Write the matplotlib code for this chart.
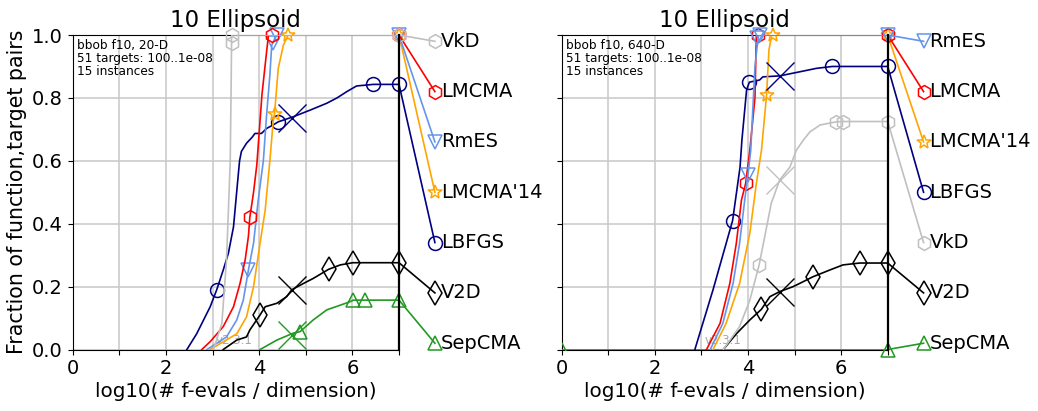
import matplotlib
matplotlib.use("Agg")
import matplotlib.pyplot as plt
import numpy as np

# ---------------- data: left panel (20-D) ----------------
L_LBFGS_x = [2.45, 2.66, 2.95, 3.09, 3.23, 3.34, 3.45, 3.53, 3.58, 3.62, 3.73, 3.85, 3.91, 4.05, 4.16, 4.30, 4.41, 4.73, 5.09, 5.45, 5.67, 5.88, 6.09, 6.45, 7.0]
L_LBFGS_y = [0.0, 0.05, 0.136, 0.19, 0.253, 0.306, 0.39, 0.52, 0.60, 0.63, 0.656, 0.675, 0.687, 0.687, 0.703, 0.714, 0.724, 0.74, 0.761, 0.783, 0.80, 0.82, 0.838, 0.843, 0.843]
L_LBFGS_mx = [3.09, 4.41, 6.45, 7.0]
L_LBFGS_my = [0.19, 0.725, 0.843, 0.843]

L_LMCMA_x = [2.77, 2.95, 3.23, 3.45, 3.59, 3.70, 3.77, 3.80, 3.88, 3.95, 4.06, 4.16, 4.20, 4.27, 7.0]
L_LMCMA_y = [0.0, 0.025, 0.073, 0.136, 0.21, 0.285, 0.36, 0.42, 0.50, 0.587, 0.81, 0.947, 1.0, 1.0, 1.0]
L_LMCMA_mx = [3.80, 4.27, 7.0]
L_LMCMA_my = [0.42, 1.0, 1.0]

L_RmES_x = [2.88, 3.30, 3.52, 3.66, 3.77, 3.88, 3.98, 4.09, 4.16, 4.23, 4.27, 4.34, 4.38, 7.0]
L_RmES_y = [0.0, 0.04, 0.094, 0.157, 0.253, 0.338, 0.475, 0.60, 0.746, 0.873, 0.968, 0.99, 1.0, 1.0]
L_RmES_mx = [3.77, 4.30, 4.38, 7.0]
L_RmES_my = [0.253, 0.975, 1.0, 1.0]

L_LM14_x = [2.95, 3.52, 3.73, 3.88, 4.02, 4.13, 4.23, 4.30, 4.33, 4.41, 4.52, 4.59, 4.62, 7.0]
L_LM14_y = [0.0, 0.05, 0.104, 0.2, 0.338, 0.444, 0.60, 0.724, 0.75, 0.894, 0.968, 0.99, 1.0, 1.0]
L_LM14_mx = [4.33, 4.62, 7.0]
L_LM14_my = [0.75, 1.0, 1.0]

L_VkD_x = [3.02, 3.20, 3.30, 3.34, 3.38, 3.40, 3.41, 7.0]
L_VkD_y = [0.0, 0.083, 0.285, 0.44, 0.60, 0.85, 1.0, 1.0]
L_VkD_mx = [3.41, 3.41, 7.0]
L_VkD_my = [0.975, 1.0, 1.0]

L_V2D_x = [3.23, 3.52, 3.73, 3.80, 4.02, 4.13, 4.38, 4.59, 4.70, 4.95, 5.16, 5.49, 5.74, 6.01, 7.0]
L_V2D_y = [0.0, 0.03, 0.04, 0.062, 0.11, 0.136, 0.147, 0.168, 0.19, 0.21, 0.226, 0.255, 0.269, 0.276, 0.276]
L_V2D_mx = [4.02, 5.49, 6.01, 7.0]
L_V2D_my = [0.11, 0.255, 0.276, 0.276]

L_Sep_x = [4.02, 4.38, 4.73, 4.88, 5.16, 5.45, 5.74, 5.95, 6.02, 6.27, 7.0]
L_Sep_y = [0.0, 0.03, 0.052, 0.057, 0.094, 0.126, 0.141, 0.152, 0.157, 0.157, 0.157]
L_Sep_mx = [4.88, 6.02, 6.27, 7.0]
L_Sep_my = [0.057, 0.157, 0.157, 0.157]

L_cross_x = [4.70, 4.70, 4.70]
L_cross_y = [0.735, 0.19, 0.046]
L_cross_c = ['#000080', '#000000', '#229922']

L_names = ['VkD', 'LMCMA', 'RmES', "LMCMA'14", 'LBFGS', 'V2D', 'SepCMA']
L_label_y = [0.98, 0.82, 0.66, 0.50, 0.34, 0.18, 0.02]

# ---------------- data: right panel (640-D) ----------------
R_LBFGS_x = [2.86, 3.25, 3.67, 3.83, 3.87, 3.97, 4.03, 4.25, 4.32, 4.68, 5.11, 5.47, 5.81, 7.0]
R_LBFGS_y = [0.0, 0.19, 0.41, 0.58, 0.666, 0.825, 0.85, 0.857, 0.867, 0.87, 0.883, 0.894, 0.90, 0.90]
R_LBFGS_mx = [3.67, 4.03, 5.81, 7.0]
R_LBFGS_my = [0.41, 0.85, 0.90, 0.90]

R_LMCMA_x = [3.11, 3.40, 3.61, 3.75, 3.86, 3.95, 4.04, 4.15, 4.18, 4.22, 7.0]
R_LMCMA_y = [0.0, 0.083, 0.21, 0.338, 0.475, 0.528, 0.634, 0.80, 1.0, 1.0, 1.0]
R_LMCMA_mx = [3.95, 4.22, 7.0]
R_LMCMA_my = [0.528, 1.0, 1.0]

R_RmES_x = [3.19, 3.46, 3.68, 3.82, 3.93, 4.00, 4.06, 4.15, 4.22, 4.25, 7.0]
R_RmES_y = [0.0, 0.083, 0.21, 0.338, 0.475, 0.555, 0.634, 0.90, 0.995, 1.0, 1.0]
R_RmES_mx = [4.00, 4.19, 4.25, 7.0]
R_RmES_my = [0.555, 0.99, 1.0, 1.0]

R_LM14_x = [3.25, 3.53, 3.82, 4.04, 4.18, 4.29, 4.40, 4.45, 4.51, 4.53, 7.0]
R_LM14_y = [0.0, 0.083, 0.21, 0.37, 0.528, 0.634, 0.81, 0.952, 1.0, 1.0, 1.0]
R_LM14_mx = [4.40, 4.53, 7.0]
R_LM14_my = [0.81, 1.0, 1.0]

R_VkD_x = [3.47, 3.82, 4.04, 4.24, 4.36, 4.50, 4.68, 4.90, 5.04, 5.19, 5.33, 5.55, 5.90, 6.04, 7.0]
R_VkD_y = [0.0, 0.073, 0.157, 0.269, 0.359, 0.465, 0.539, 0.58, 0.634, 0.666, 0.692, 0.714, 0.724, 0.725, 0.725]
R_VkD_mx = [4.24, 5.90, 6.04, 7.0]
R_VkD_my = [0.269, 0.724, 0.725, 0.725]

R_V2D_x = [3.47, 3.75, 4.04, 4.29, 4.47, 4.68, 4.97, 5.19, 5.39, 5.76, 6.04, 6.40, 7.0]
R_V2D_y = [0.0, 0.05, 0.094, 0.128, 0.168, 0.184, 0.2, 0.216, 0.231, 0.253, 0.269, 0.275, 0.275]
R_V2D_mx = [4.29, 5.39, 6.40, 7.0]
R_V2D_my = [0.128, 0.231, 0.275, 0.275]

R_Sep_x = [0.0, 7.0]
R_Sep_y = [0.0, 0.0]
R_Sep_mx = [0.0, 7.0]
R_Sep_my = [0.0, 0.0]

R_cross_x = [4.68, 4.68, 4.68]
R_cross_y = [0.87, 0.539, 0.184]
R_cross_c = ['#000080', '#c0c0c0', '#000000']

R_names = ['RmES', 'LMCMA', "LMCMA'14", 'LBFGS', 'VkD', 'V2D', 'SepCMA']
R_label_y = [0.98, 0.82, 0.66, 0.50, 0.34, 0.18, 0.02]

titles = ['10 Ellipsoid', '10 Ellipsoid']
infos = ['bbob f10, 20-D\n51 targets: 100..1e-08\n15 instances',
         'bbob f10, 640-D\n51 targets: 100..1e-08\n15 instances']
xticks = [0, 1, 2, 3, 4, 5, 6, 7]
xticklabels = ['0', '', '2', '', '4', '', '6', '']
yticks = [0.0, 0.2, 0.4, 0.6, 0.8, 1.0]

STYLE = {
    'LBFGS': dict(color='#000080', marker='o', ms=10),
    'V2D': dict(color='#000000', marker='d', ms=12),
    'SepCMA': dict(color='#229922', marker='^', ms=10),
    'VkD': dict(color='#c0c0c0', marker='h', ms=10),
    'LMCMA': dict(color='#ff0000', marker='h', ms=10),
    'RmES': dict(color='#6495ed', marker='v', ms=10),
    "LMCMA'14": dict(color='#ffa500', marker='*', ms=10),
}

left_series = {
    'VkD': (L_VkD_x, L_VkD_y, L_VkD_mx, L_VkD_my),
    'LMCMA': (L_LMCMA_x, L_LMCMA_y, L_LMCMA_mx, L_LMCMA_my),
    'RmES': (L_RmES_x, L_RmES_y, L_RmES_mx, L_RmES_my),
    "LMCMA'14": (L_LM14_x, L_LM14_y, L_LM14_mx, L_LM14_my),
    'LBFGS': (L_LBFGS_x, L_LBFGS_y, L_LBFGS_mx, L_LBFGS_my),
    'V2D': (L_V2D_x, L_V2D_y, L_V2D_mx, L_V2D_my),
    'SepCMA': (L_Sep_x, L_Sep_y, L_Sep_mx, L_Sep_my),
}
right_series = {
    'RmES': (R_RmES_x, R_RmES_y, R_RmES_mx, R_RmES_my),
    'LMCMA': (R_LMCMA_x, R_LMCMA_y, R_LMCMA_mx, R_LMCMA_my),
    "LMCMA'14": (R_LM14_x, R_LM14_y, R_LM14_mx, R_LM14_my),
    'LBFGS': (R_LBFGS_x, R_LBFGS_y, R_LBFGS_mx, R_LBFGS_my),
    'VkD': (R_VkD_x, R_VkD_y, R_VkD_mx, R_VkD_my),
    'V2D': (R_V2D_x, R_V2D_y, R_V2D_mx, R_V2D_my),
    'SepCMA': (R_Sep_x, R_Sep_y, R_Sep_mx, R_Sep_my),
}

fig = plt.figure(figsize=(10.38, 4.11), dpi=100)
ax1 = fig.add_axes([0.070, 0.1496, 0.3144, 0.7652])
ax2 = fig.add_axes([0.5411, 0.1496, 0.3141, 0.7652])

LABEL_X = 7.77
TEXT_X = 7.90

panels = [
    (ax1, left_series, L_names, L_label_y, L_cross_x, L_cross_y, L_cross_c, titles[0], infos[0], True),
    (ax2, right_series, R_names, R_label_y, R_cross_x, R_cross_y, R_cross_c, titles[1], infos[1], False),
]

for ax, series, names, label_y, cx, cy, cc, title, info, show_ylab in panels:
    ax.set_xlim(0, 7)
    ax.set_ylim(0, 1)
    ax.set_xticks(xticks)
    ax.set_xticklabels(xticklabels, fontsize=14)
    ax.set_yticks(yticks)
    if show_ylab:
        ax.set_yticklabels([f'{v:.1f}' for v in yticks], fontsize=14)
        ax.set_ylabel('Fraction of function,target pairs', fontsize=14.8)
    else:
        ax.set_yticklabels([])
    ax.set_xlabel('log10(# f-evals / dimension)', fontsize=14.3, labelpad=3)
    ax.grid(True, color='#c8c8c8', lw=1.1)
    ax.set_axisbelow(True)
    ax.spines['right'].set_linewidth(1.6)
    ax.spines['right'].set_zorder(4)
    ax.set_title(title, fontsize=16.5, pad=6)
    ax.text(0.012, 0.988, info, transform=ax.transAxes, fontsize=8.7,
            va='top', ha='left', linespacing=1.0)
    ax.text(3.47, 0.03, 'v2.3.1', fontsize=8.5, color='#909090', alpha=0.8,
            ha='center', va='center', zorder=1)

    # draw in reverse so that top-listed algorithms are on top
    for name, ly in reversed(list(zip(names, label_y))):
        xs, ys, mx, my = series[name]
        st = STYLE[name]
        col = st['color']
        ms = st['ms']
        ax.plot(xs, ys, color=col, lw=1.2, zorder=3)
        for x, y in zip(mx, my):
            ax.plot([x], [y], ls='none', marker=st['marker'], ms=ms, mfc='none',
                    mec=col, mew=1.1, zorder=3, clip_on=(x <= 0.0))
        # connector to the label
        ax.plot([xs[-1], LABEL_X], [ys[-1], ly], color=col, lw=1.2,
                clip_on=False, zorder=3)
        ax.plot([LABEL_X], [ly], ls='none', marker=st['marker'], ms=ms,
                mfc='none', mec=col, mew=1.1, clip_on=False, zorder=3)
        ax.text(TEXT_X, ly, name, fontsize=14, va='center', ha='left',
                color='black', clip_on=False)

    for x, y, c in zip(cx, cy, cc):
        ax.plot([x], [y], ls='none', marker='x', ms=20, mew=1.0, color=c,
                zorder=3)

fig.savefig('out.png', dpi=100)
